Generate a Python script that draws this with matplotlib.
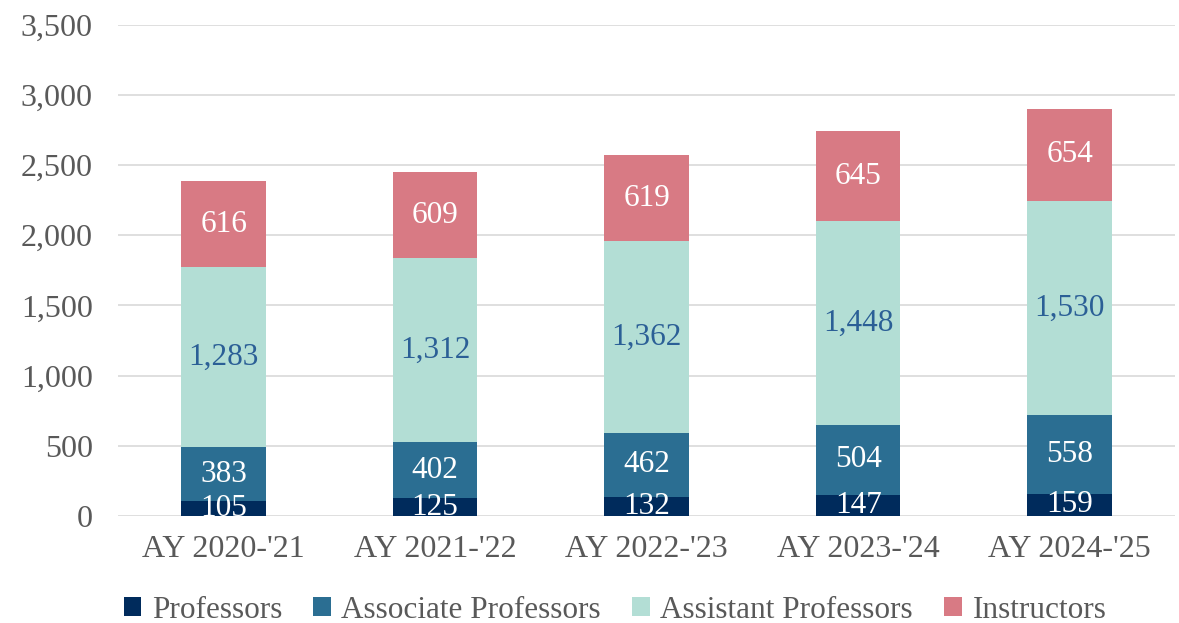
import matplotlib.pyplot as plt
import numpy as np
from matplotlib.ticker import FuncFormatter

years = ["AY 2020-'21", "AY 2021-'22", "AY 2022-'23", "AY 2023-'24", "AY 2024-'25"]
professors = [105, 125, 132, 147, 159]
associate = [383, 402, 462, 504, 558]
assistant = [1283, 1312, 1362, 1448, 1530]
instructors = [616, 609, 619, 645, 654]

series = [
    ("Professors", professors, "#002b5c", "white"),
    ("Associate Professors", associate, "#2b6e92", "white"),
    ("Assistant Professors", assistant, "#b3ded5", "#2b5f96"),
    ("Instructors", instructors, "#d87a84", "white"),
]

plt.rcParams['font.family'] = ['Liberation Serif', 'DejaVu Serif']
grey = "#595959"

fig = plt.figure(figsize=(11.79, 6.23), dpi=100)
ax = fig.add_axes([0.100, 0.172, 0.897, 0.788])

x = np.arange(len(years))
bottom = np.zeros(len(years))
for name, vals, color, tcol in series:
    vals = np.array(vals)
    ax.bar(x, vals, width=0.4, bottom=bottom, color=color, label=name, zorder=3)
    for xi, b, v in zip(x, bottom, vals):
        ax.text(xi, b + v / 2, f"{v:,}", ha="center", va="center",
                fontsize=22.5, color=tcol, zorder=4, clip_on=True)
    bottom += vals

ax.set_xlim(-0.5, len(years) - 0.5)
ax.set_ylim(0, 3500)
ax.set_yticks(np.arange(0, 3501, 500))
ax.yaxis.set_major_formatter(FuncFormatter(lambda v, p: f"{int(v):,}"))
ax.set_xticks(x)
ax.set_xticklabels(years)
ax.tick_params(axis="both", length=0, labelsize=23, colors=grey)
ax.tick_params(axis="y", pad=18)
ax.tick_params(axis="x", pad=14)
ax.grid(axis="y", color="#d9d9d9", linewidth=1.2, zorder=0)
for s in ax.spines.values():
    s.set_visible(False)

ax.legend(loc="upper center", bbox_to_anchor=(0.47, -0.105), ncol=4, frameon=False,
          fontsize=22.5, labelcolor=grey, handlelength=0.55, handleheight=0.55,
          handletextpad=0.35, columnspacing=1.0)

fig.savefig("out.png", dpi=100)
